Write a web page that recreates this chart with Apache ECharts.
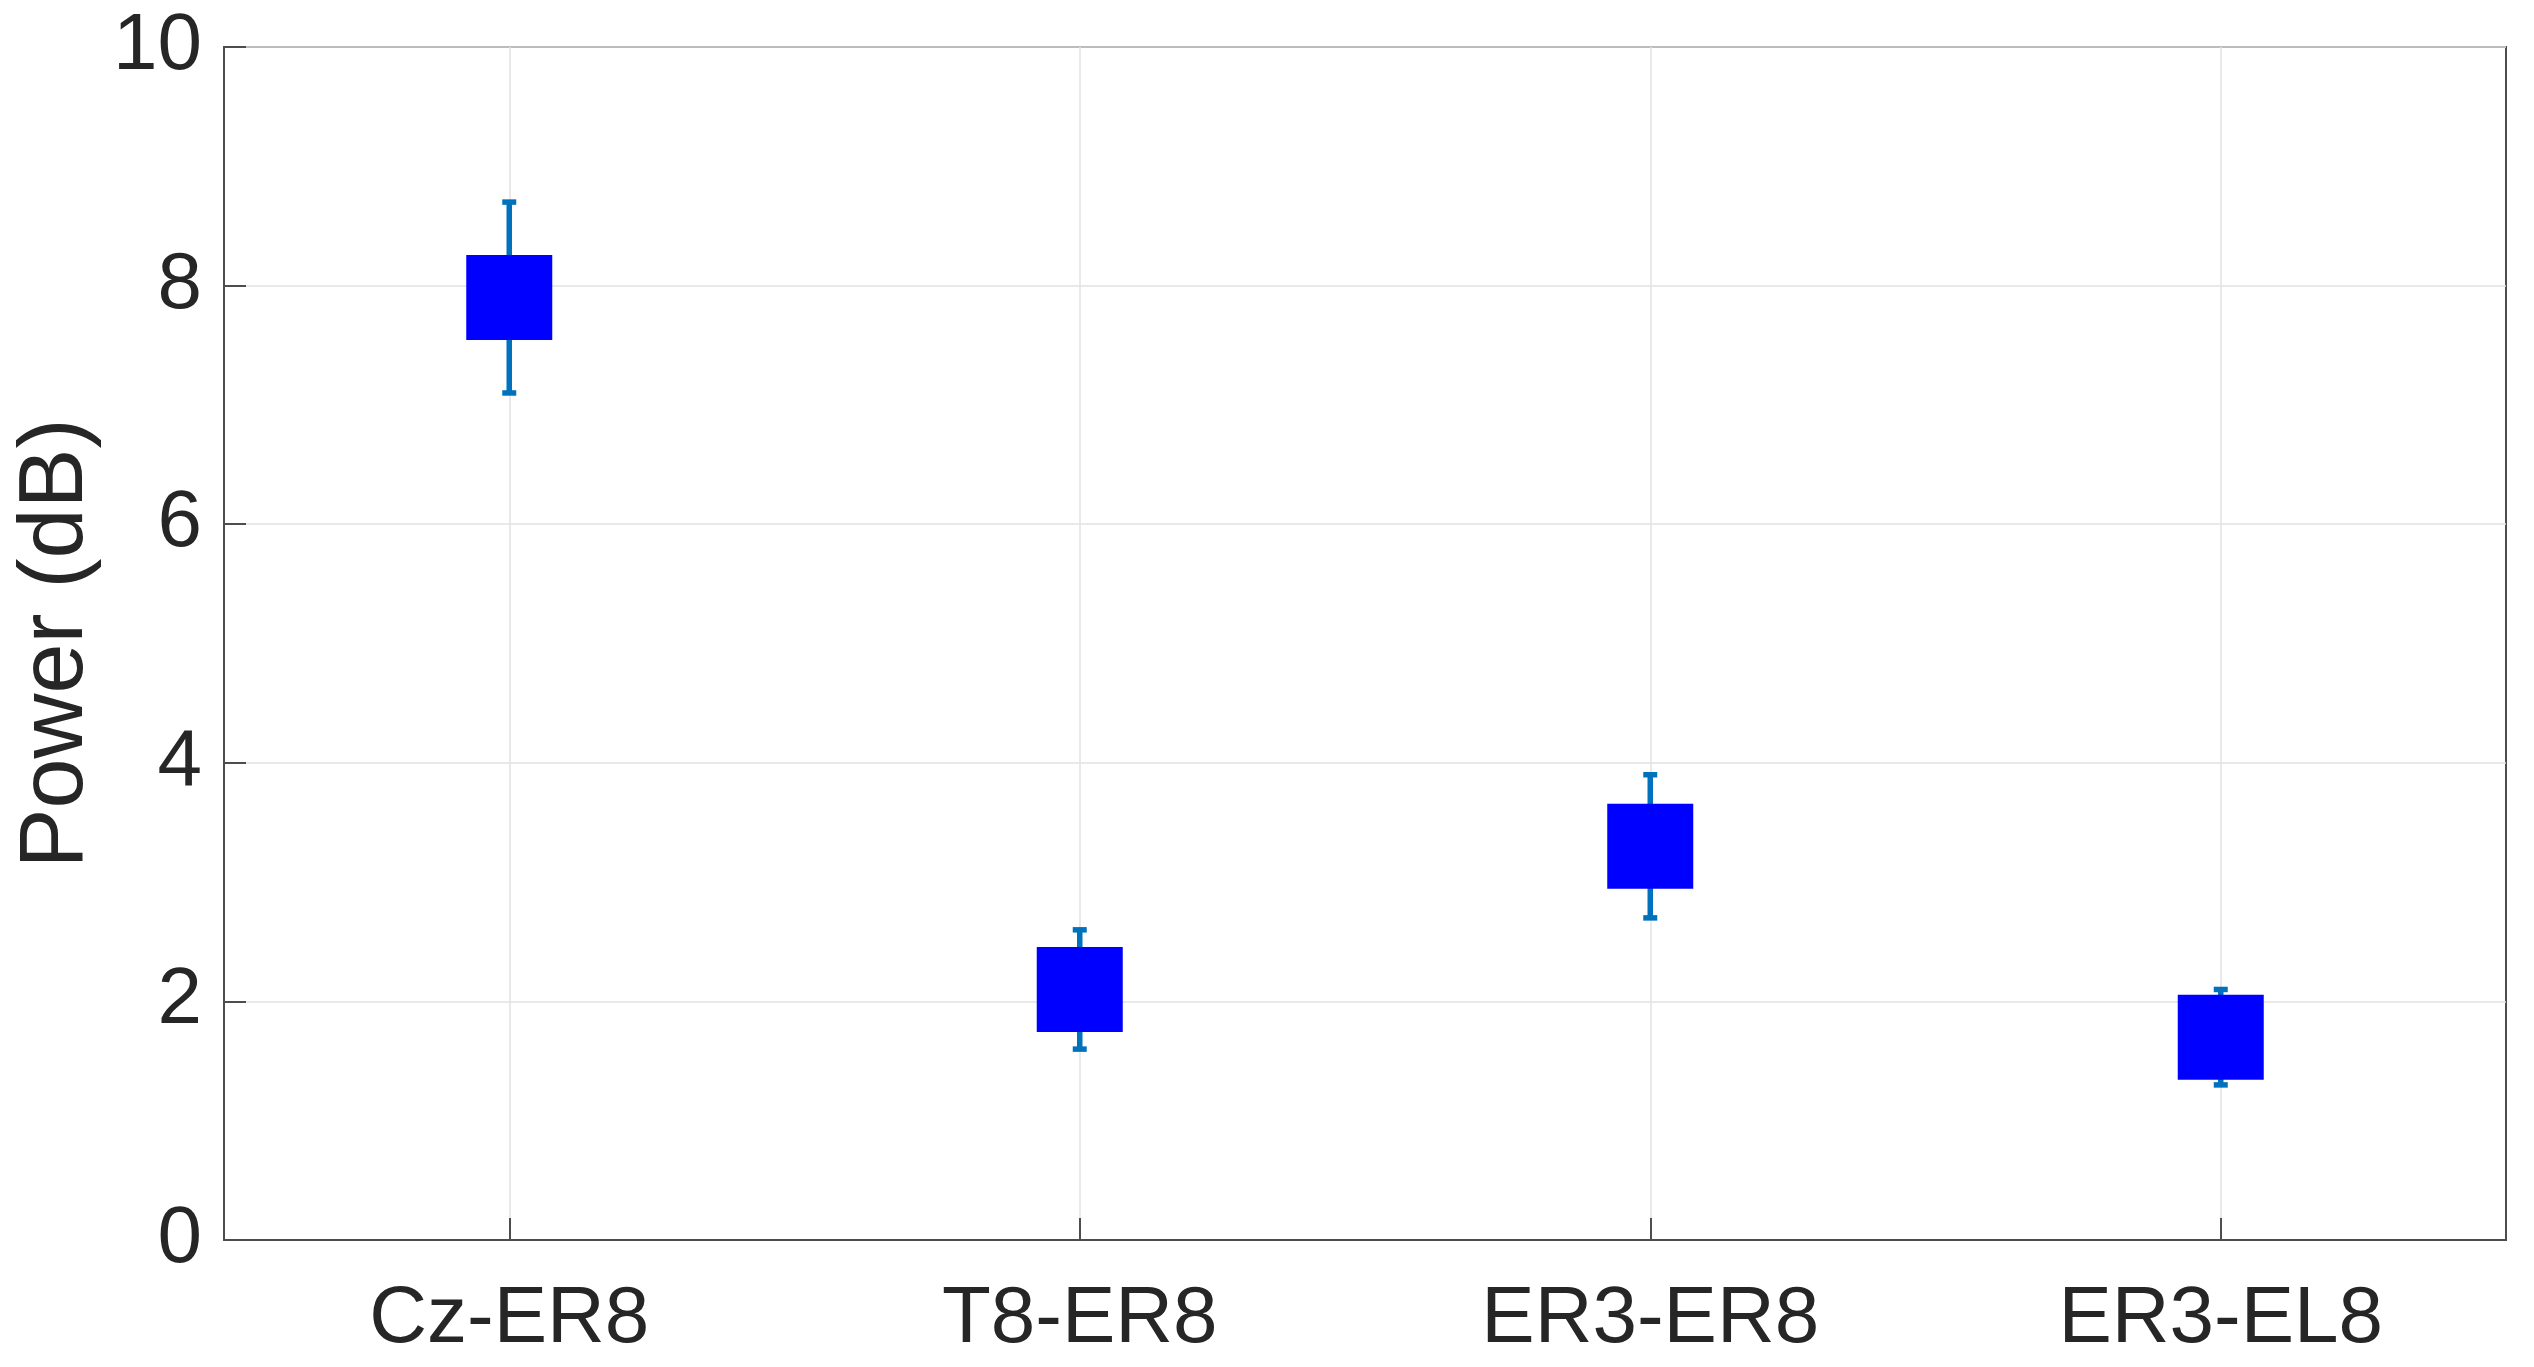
<!DOCTYPE html>
<html>
<head>
<meta charset="utf-8">
<script src="https://cdn.jsdelivr.net/npm/echarts@6/dist/echarts.min.js"></script>
<style>
html,body{margin:0;padding:0;background:#fff;}
#chart{width:2534px;height:1367px;}
</style>
</head>
<body>
<div id="chart"></div>
<script>
// Data
const categories = ['Cz-ER8', 'T8-ER8', 'ER3-ER8', 'ER3-EL8'];
const means = [7.9, 2.1, 3.3, 1.7];
const errors = [0.8, 0.5, 0.6, 0.4];
const yTicks = [0, 2, 4, 6, 8, 10];

const FONT = '"Liberation Sans", Arial, sans-serif';
const TXT = '#262626';
const AXIS = '#4d4d4d';
const GRIDC = '#e2e2e2';

const errData = categories.map((c, i) => [i, means[i], errors[i]]);
const ptData = categories.map((c, i) => [i, means[i]]);

const chart = echarts.init(document.getElementById('chart'), null, {renderer: 'canvas'});
chart.setOption({
  animation: false,
  backgroundColor: '#ffffff',
  grid: {
    left: 224, right: 28, top: 47, bottom: 127,
    containLabel: false, outerBoundsMode: 'none',
    show: true, borderColor: AXIS, borderWidth: 2, backgroundColor: 'transparent'
  },
  xAxis: [
    {
      type: 'category', data: categories, boundaryGap: true, z: 0, position: 'bottom',
      axisLine: {show: false},
      axisTick: {show: true, alignWithLabel: true, inside: true, length: 1193,
                 lineStyle: {color: GRIDC, width: 1.5}},
      axisLabel: {show: false},
      splitLine: {show: false}
    },
    {
      type: 'category', data: categories, boundaryGap: true, z: 3, position: 'bottom',
      axisLine: {show: true, onZero: false, lineStyle: {color: AXIS, width: 2}},
      axisTick: {show: true, alignWithLabel: true, inside: true, length: 22,
                 lineStyle: {color: AXIS, width: 2}},
      axisLabel: {show: true, fontFamily: FONT, fontSize: 80, color: TXT, margin: 40},
      splitLine: {show: false}
    }
  ],
  yAxis: {
    type: 'value', min: 0, max: 10, interval: 2,
    name: 'Power (dB)', nameLocation: 'middle', nameGap: 115,
    nameTextStyle: {fontFamily: FONT, fontSize: 90, color: TXT},
    axisLine: {show: true, lineStyle: {color: AXIS, width: 2}},
    axisTick: {show: true, inside: true, length: 22, lineStyle: {color: AXIS, width: 2}},
    axisLabel: {fontFamily: FONT, fontSize: 80, color: TXT, margin: 22,
                formatter: v => yTicks.includes(v) ? String(v) : ''},
    splitLine: {show: true, lineStyle: {color: GRIDC, width: 1.5}}
  },
  series: [
    {
      type: 'custom', xAxisIndex: 0, z: 2,
      data: errData,
      encode: {x: 0, y: 1},
      renderItem: function (params, api) {
        const i = api.value(0), m = api.value(1), e = api.value(2);
        const top = api.coord([i, m + e]);
        const bot = api.coord([i, m - e]);
        const hw = 7;
        const style = {stroke: '#0072BD', lineWidth: 5.5, fill: null};
        return {
          type: 'group',
          children: [
            {type: 'line', shape: {x1: top[0], y1: top[1], x2: bot[0], y2: bot[1]}, style: style},
            {type: 'line', shape: {x1: top[0] - hw, y1: top[1], x2: top[0] + hw, y2: top[1]}, style: style},
            {type: 'line', shape: {x1: bot[0] - hw, y1: bot[1], x2: bot[0] + hw, y2: bot[1]}, style: style}
          ]
        };
      }
    },
    {
      type: 'scatter', xAxisIndex: 0, z: 4,
      data: ptData,
      symbol: 'rect', symbolSize: [86, 85],
      itemStyle: {color: '#0000FF', opacity: 1, borderWidth: 0}
    }
  ]
});
</script>
</body>
</html>
